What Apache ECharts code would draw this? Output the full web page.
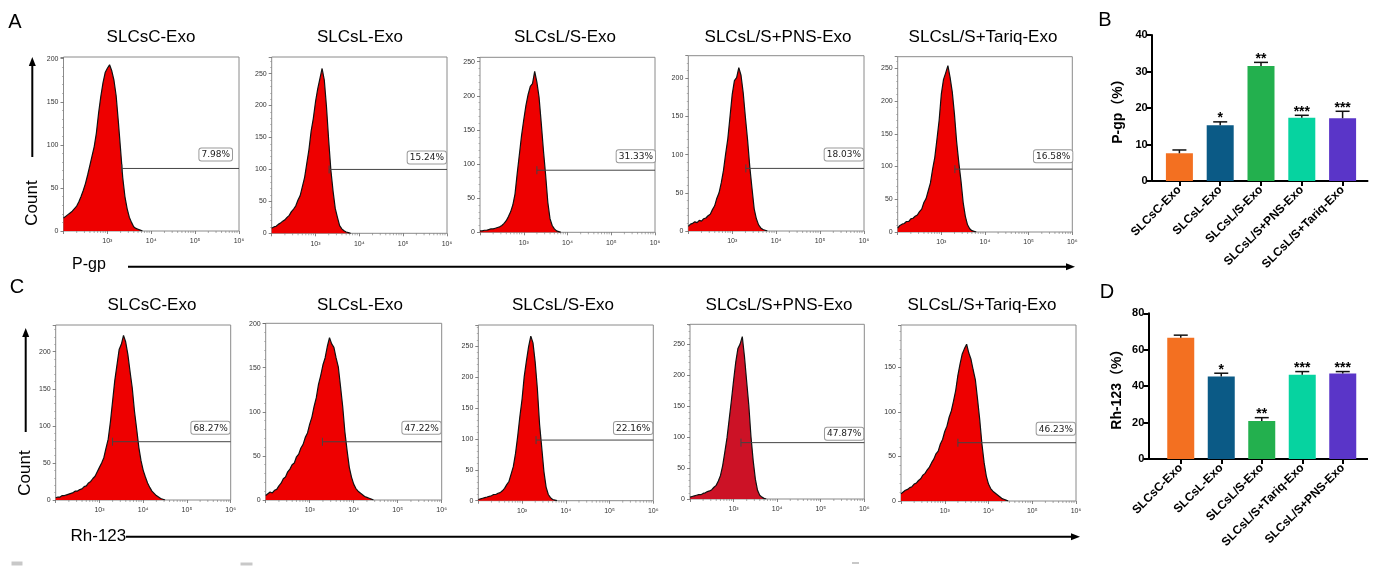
<!DOCTYPE html>
<html><head><meta charset="utf-8">
<script src="https://cdn.jsdelivr.net/npm/echarts@6/dist/echarts.min.js"></script>
<style>html,body{margin:0;padding:0;background:#fff}#c{width:1378px;height:566px}</style>
</head><body><div id="c"></div>
<script>
// ---------- DATA ----------
// histogram bins: log10 of fluorescence intensity
const X_BINS = [2,2.05,2.1,2.15,2.2,2.25,2.3,2.35,2.4,2.45,2.5,2.55,2.6,2.65,2.7,2.75,2.8,2.85,2.9,2.95,3,3.05,3.1,3.15,3.2,3.25,3.3,3.35,3.4,3.45,3.5,3.55,3.6,3.65,3.7,3.75,3.8,3.85,3.9,3.95,4,4.05,4.1,4.15,4.2,4.25,4.3,4.35,4.4,4.45,4.5];
const GROUPS = ['SLCsC-Exo','SLCsL-Exo','SLCsL/S-Exo','SLCsL/S+PNS-Exo','SLCsL/S+Tariq-Exo'];
const X_TICK_LABELS = {3:'10³',4:'10⁴',5:'10⁵',6:'10⁶'};

// P-gp counts (row A)
const PGP_C   = [15,17,19,21,23,26,29,34,40,47,55,65,76,87,98,114,137,156,172,184,189,193,186,175,157,127,95,62,40,26,16,10,5,3,2,1,0];
const PGP_L   = [8,10,11,14,16,19,21,25,28,34,38,43,52,59,73,87,109,131,160,180,206,226,242,258,240,198,146,99,66,39,25,12,7,4,2,1,0];
const PGP_LS  = [2,2,3,3,4,5,5,6,7,8,10,13,17,23,30,40,56,86,114,142,165,186,202,214,218,236,220,198,160,120,84,44,20,10,5,2,1,0];
const PGP_PNS = [6,9,10,12,11,14,13,16,17,20,22,28,33,43,50,63,79,101,121,150,179,197,201,214,204,181,149,119,84,56,29,16,8,4,2,1,0];
const PGP_TAR = [6,10,12,13,16,16,20,21,24,26,31,35,45,51,63,75,96,114,142,171,211,233,243,254,236,214,180,138,106,78,45,24,11,5,2,1,0];
// Rh-123 counts (row C)
const RH_C    = [3,4,4,6,6,7,8,9,10,12,12,14,15,18,19,23,25,29,32,38,44,50,57,70,82,105,133,161,182,203,210,222,213,196,173,151,120,96,71,53,40,31,23,17,12,9,6,4,2,1,0];
const RH_L    = [5,7,9,8,11,12,16,19,24,26,32,35,40,42,49,52,59,63,71,76,86,94,106,116,131,141,153,161,174,184,177,173,161,151,129,106,77,56,37,26,18,13,10,8,6,4,3,2,1,0];
const RH_LS   = [2,3,4,5,6,7,8,10,10,12,13,16,20,26,31,43,55,76,104,136,164,201,226,249,266,255,224,181,124,86,47,22,10,5,2,1,0];
const RH_PNS  = [3,4,5,6,7,7,9,10,12,13,15,19,22,29,38,54,76,99,129,159,191,221,243,250,262,230,190,151,100,62,32,14,6,3,1,0];
const RH_TAR  = [8,10,12,13,15,16,19,20,23,25,29,31,35,38,43,47,53,56,64,69,78,84,94,101,112,124,141,154,165,171,176,166,159,147,136,114,91,64,43,28,19,14,11,9,7,5,3,2,1,0];

// gates
const GATE_A_START = [3.33,3.31,3.30,3.31,3.31];
const GATE_A_Y     = [72.6,100,91,82,96];
const PCT_A        = ['7.98%','15.24%','31.33%','18.03%','16.58%'];
const GATE_C_START = [3.30,3.29,3.32,3.17,3.30];
const GATE_C_Y     = [78.6,66,98,91,65.4];
const PCT_C        = ['68.27%','47.22%','22.16%','47.87%','46.23%'];

// bar charts
const B_CATS = ['SLCsC-Exo','SLCsL-Exo','SLCsL/S-Exo','SLCsL/S+PNS-Exo','SLCsL/S+Tariq-Exo'];
const B_VALS = [7.6,15.3,31.5,17.3,17.2];
const B_ERR  = [0.9,0.9,1.0,0.7,1.9];
const B_SIG  = ['','*','**','***','***'];
const D_CATS = ['SLCsC-Exo','SLCsL-Exo','SLCsL/S-Exo','SLCsL/S+Tariq-Exo','SLCsL/S+PNS-Exo'];
const D_VALS = [66.6,45.3,20.9,46.3,46.9];
const D_ERR  = [1.4,1.8,1.8,1.7,1.1];
const D_SIG  = ['','*','**','***','***'];

// ---------- LAYOUT / STYLE ----------
const FONT = "'Liberation Sans', Arial, sans-serif";
const HIST_LAYOUT = [
  [63.5,57,175.5,174],[271.7,57,175.3,176.3],[480,57.3,175,175],[688.3,55.7,175.7,175.3],[897.7,56.7,174.6,175.3],
  [55.7,325,175,175],[265.7,323.3,176,176.7],[478.3,325,175,175.7],[690,324.3,174.3,174.7],[901,325,175,176]
];
const HIST_YMAX = [202,276,256.5,229.6,267.7,236,200.3,284,282,197.5];
const HIST_FILL = ['#ee0000','#ee0000','#ee0000','#ee0000','#ee0000','#ee0000','#ee0000','#ee0000','#cc1226','#ee0000'];
const LABEL_GAP = [8,6,8,8,7,8,8,6,3,8];
const LABEL_DX  = [7,1,0,1,0,1,1,1,1,1];
const BAR_COLORS = ['#f37021','#0b5a86','#23b04e','#06d3a0','#5a35c8'];

const HIST_DATA = [PGP_C,PGP_L,PGP_LS,PGP_PNS,PGP_TAR,RH_C,RH_L,RH_LS,RH_PNS,RH_TAR];
const GATE_START = GATE_A_START.concat(GATE_C_START);
const GATE_Y = GATE_A_Y.concat(GATE_C_Y);
const PCTS = PCT_A.concat(PCT_C);

const grids = [], xAxes = [], yAxes = [], series = [];

HIST_DATA.forEach((vals, i) => {
  const [l,t,w,h] = HIST_LAYOUT[i];
  grids.push({left:l, top:t, width:w, height:h, show:true, borderColor:'#8a8a8a', borderWidth:1, backgroundColor:'transparent', containLabel:false});
  xAxes.push({gridIndex:i, type:'value', min:2, max:6, interval:1,
    axisLine:{show:false}, splitLine:{show:false},
    axisTick:{show:true, length:3, lineStyle:{color:'#666', width:0.8}},
    axisLabel:{fontSize:7, color:'#333', margin:7, fontFamily:FONT, formatter:v => X_TICK_LABELS[v] || ''}});
  yAxes.push({gridIndex:i, type:'value', min:0, max:HIST_YMAX[i], interval:50,
    axisLine:{show:false}, splitLine:{show:false},
    axisTick:{show:true, length:3, lineStyle:{color:'#666', width:0.8}},
    minorTick:{show:true, splitNumber:5, length:1.5, lineStyle:{color:'#888', width:0.6}},
    axisLabel:{fontSize:7, color:'#333', margin:5, fontFamily:FONT, formatter:v => (v % 50 === 0 ? String(v) : '')}});
  series.push({type:'line', xAxisIndex:i, yAxisIndex:i, symbol:'none', silent:true, animation:false,
    data: vals.map((v, k) => [X_BINS[k], v]),
    lineStyle:{color:'#111', width:1.2}, areaStyle:{color:HIST_FILL[i], opacity:1}, z:3});
  // log minor ticks on the x axis (axis decoration)
  series.push({type:'custom', xAxisIndex:i, yAxisIndex:i, silent:true, animation:false, data:[[2,0]], z:4,
    renderItem:(p, api) => {
      const ch = [];
      for (let d = 2; d < 6; d++) for (let k = 2; k <= 9; k++) {
        const c = api.coord([d + Math.log10(k), 0]);
        ch.push({type:'line', shape:{x1:c[0], y1:c[1], x2:c[0], y2:c[1]+2}, style:{stroke:'#777', lineWidth:0.6}});
      }
      return {type:'group', children:ch};
    }});
  // gate
  const pct = PCTS[i], gap = LABEL_GAP[i], dx = LABEL_DX[i];
  series.push({type:'custom', xAxisIndex:i, yAxisIndex:i, silent:true, animation:false, z:6,
    data:[[GATE_START[i], GATE_Y[i]]],
    renderItem:(p, api) => {
      const s = api.coord([api.value(0), api.value(1)]);
      const e = api.coord([6, api.value(1)]);
      return {type:'group', children:[
        {type:'line', shape:{x1:s[0], y1:s[1], x2:e[0], y2:e[1]}, style:{stroke:'#444', lineWidth:1}},
        {type:'line', shape:{x1:s[0], y1:s[1]-4, x2:s[0], y2:s[1]+4}, style:{stroke:'#444', lineWidth:1}},
        {type:'text', x:e[0]-dx, y:s[1]-gap, style:{text:pct, align:'right', verticalAlign:'bottom',
          font:"9px 'DejaVu Sans', sans-serif", fill:'#222', backgroundColor:'#fff', borderColor:'#9a9a9a',
          borderWidth:1, borderRadius:2, padding:[2,2,1,2]}}
      ]};
    }});
});

function addBar(gi, layout, yOffset, cats, vals, errs, sigs, ymax, yint, yName, nameGap) {
  const [l,t,w,h] = layout;
  grids.push({left:l, top:t, width:w, height:h, show:false});
  xAxes.push({gridIndex:gi, type:'category', data:cats,
    axisLine:{show:false},
    axisTick:{show:true, alignWithLabel:true, length:5, lineStyle:{color:'#000', width:2}},
    axisLabel:{interval:0, rotate:45, fontSize:12, fontWeight:'bold', color:'#000', fontFamily:FONT, margin:7}});
  yAxes.push({gridIndex:gi, type:'value', min:0, max:ymax, interval:yint, offset:yOffset,
    name:yName, nameLocation:'middle', nameGap:nameGap, nameRotate:90,
    nameTextStyle:{fontSize:14, fontWeight:'bold', color:'#000', fontFamily:FONT + ", 'Noto Sans CJK SC'"},
    axisLine:{show:true, lineStyle:{color:'#000', width:2}},
    axisTick:{show:true, length:5, lineStyle:{color:'#000', width:2}},
    splitLine:{show:false},
    axisLabel:{fontSize:11, fontWeight:'bold', color:'#000', fontFamily:FONT, margin:4}});
  series.push({type:'bar', xAxisIndex:gi, yAxisIndex:gi, barWidth:27, silent:true, animation:false,
    data: vals.map((v, k) => ({value:v, itemStyle:{color:BAR_COLORS[k]}}))});
  series.push({type:'custom', xAxisIndex:gi, yAxisIndex:gi, silent:true, animation:false, z:5,
    data: vals.map((v, k) => [k, v, errs[k]]),
    renderItem:(p, api) => {
      const k = api.value(0);
      const p0 = api.coord([k, api.value(1)]);
      const p1 = api.coord([k, api.value(1) + api.value(2)]);
      const ch = [
        {type:'line', shape:{x1:p0[0], y1:p0[1], x2:p1[0], y2:p1[1]}, style:{stroke:'#111', lineWidth:1.5}},
        {type:'line', shape:{x1:p1[0]-7, y1:p1[1], x2:p1[0]+7, y2:p1[1]}, style:{stroke:'#111', lineWidth:1.5}}
      ];
      const sig = sigs[p.dataIndex];
      if (sig) ch.push({type:'text', x:p1[0], y:p1[1]+3.5, style:{text:sig, align:'center', verticalAlign:'bottom',
        font:"bold 14px 'Liberation Sans', Arial, sans-serif", fill:'#000'}});
      return {type:'group', children:ch};
    }});
}
addBar(10, [1159,35,204,146], 7.3, B_CATS, B_VALS, B_ERR, B_SIG, 40, 10, 'P-gp（%）', 27);
addBar(11, [1160.5,313.3,202.5,145.7], 12.2, D_CATS, D_VALS, D_ERR, D_SIG, 80, 20, 'Rh-123（%）', 24);

// ---------- decorations ----------
const g = [];
function txt(x, y, s, size, opts) {
  g.push(Object.assign({type:'text', x:x, y:y, style:{text:s, font:size+'px '+FONT, fill:'#000', align:'center', verticalAlign:'middle'}}, opts || {}));
}
function hline(x1, y1, x2, y2, w, color) {
  g.push({type:'line', shape:{x1:x1, y1:y1, x2:x2, y2:y2}, style:{stroke:color || '#000', lineWidth:w}});
}
function tri(points) { g.push({type:'polygon', shape:{points:points}, style:{fill:'#000'}}); }

txt(15, 22, 'A', 20); txt(1105, 20, 'B', 20); txt(17, 287, 'C', 20); txt(1107, 292, 'D', 20);
const TITLE_A_X = [151,360,565,778,983], TITLE_C_X = [152,360,563,779,982];
GROUPS.forEach((t, k) => { txt(TITLE_A_X[k], 37, t, 17); txt(TITLE_C_X[k], 305.5, t, 17); });
// Count labels and vertical arrows
txt(32, 203, 'Count', 17, {rotation:Math.PI/2});
txt(25, 473, 'Count', 17, {rotation:Math.PI/2});
hline(32.3, 157, 32.3, 64, 2); tri([[32.3,57],[28.8,66],[35.8,66]]);
hline(25.7, 432, 25.7, 335, 2); tri([[25.7,328],[22.2,337],[29.2,337]]);
// horizontal axis names and arrows
g.push({type:'text', x:72, y:265, style:{text:'P-gp', font:'16px '+FONT, fill:'#000', align:'left', verticalAlign:'middle'}});
g.push({type:'text', x:70.5, y:536, style:{text:'Rh-123', font:'17px '+FONT, fill:'#000', align:'left', verticalAlign:'middle'}});
hline(128, 266.7, 1067, 266.7, 2); tri([[1075,266.7],[1066,263.2],[1066,270.2]]);
hline(126, 536.7, 1072, 536.7, 2); tri([[1080,536.7],[1071,533.2],[1071,540.2]]);
// bar chart x-axis lines
hline(1151.7, 181, 1368.3, 181, 2);
hline(1148.3, 459, 1368, 459, 2);
// cropped marks at the bottom edge
g.push({type:'rect', shape:{x:11.5, y:561.5, width:11, height:4}, style:{fill:'#c8c8c8'}});
g.push({type:'rect', shape:{x:240.5, y:562.5, width:12, height:3}, style:{fill:'#c8c8c8'}});
g.push({type:'rect', shape:{x:852, y:562, width:7, height:2}, style:{fill:'#c8c8c8'}});

const chart = echarts.init(document.getElementById('c'), null, {renderer:'canvas', width:1378, height:566});
chart.setOption({animation:false, backgroundColor:'#fff', grid:grids, xAxis:xAxes, yAxis:yAxes, series:series, graphic:{elements:g}});
</script>
</body></html>
